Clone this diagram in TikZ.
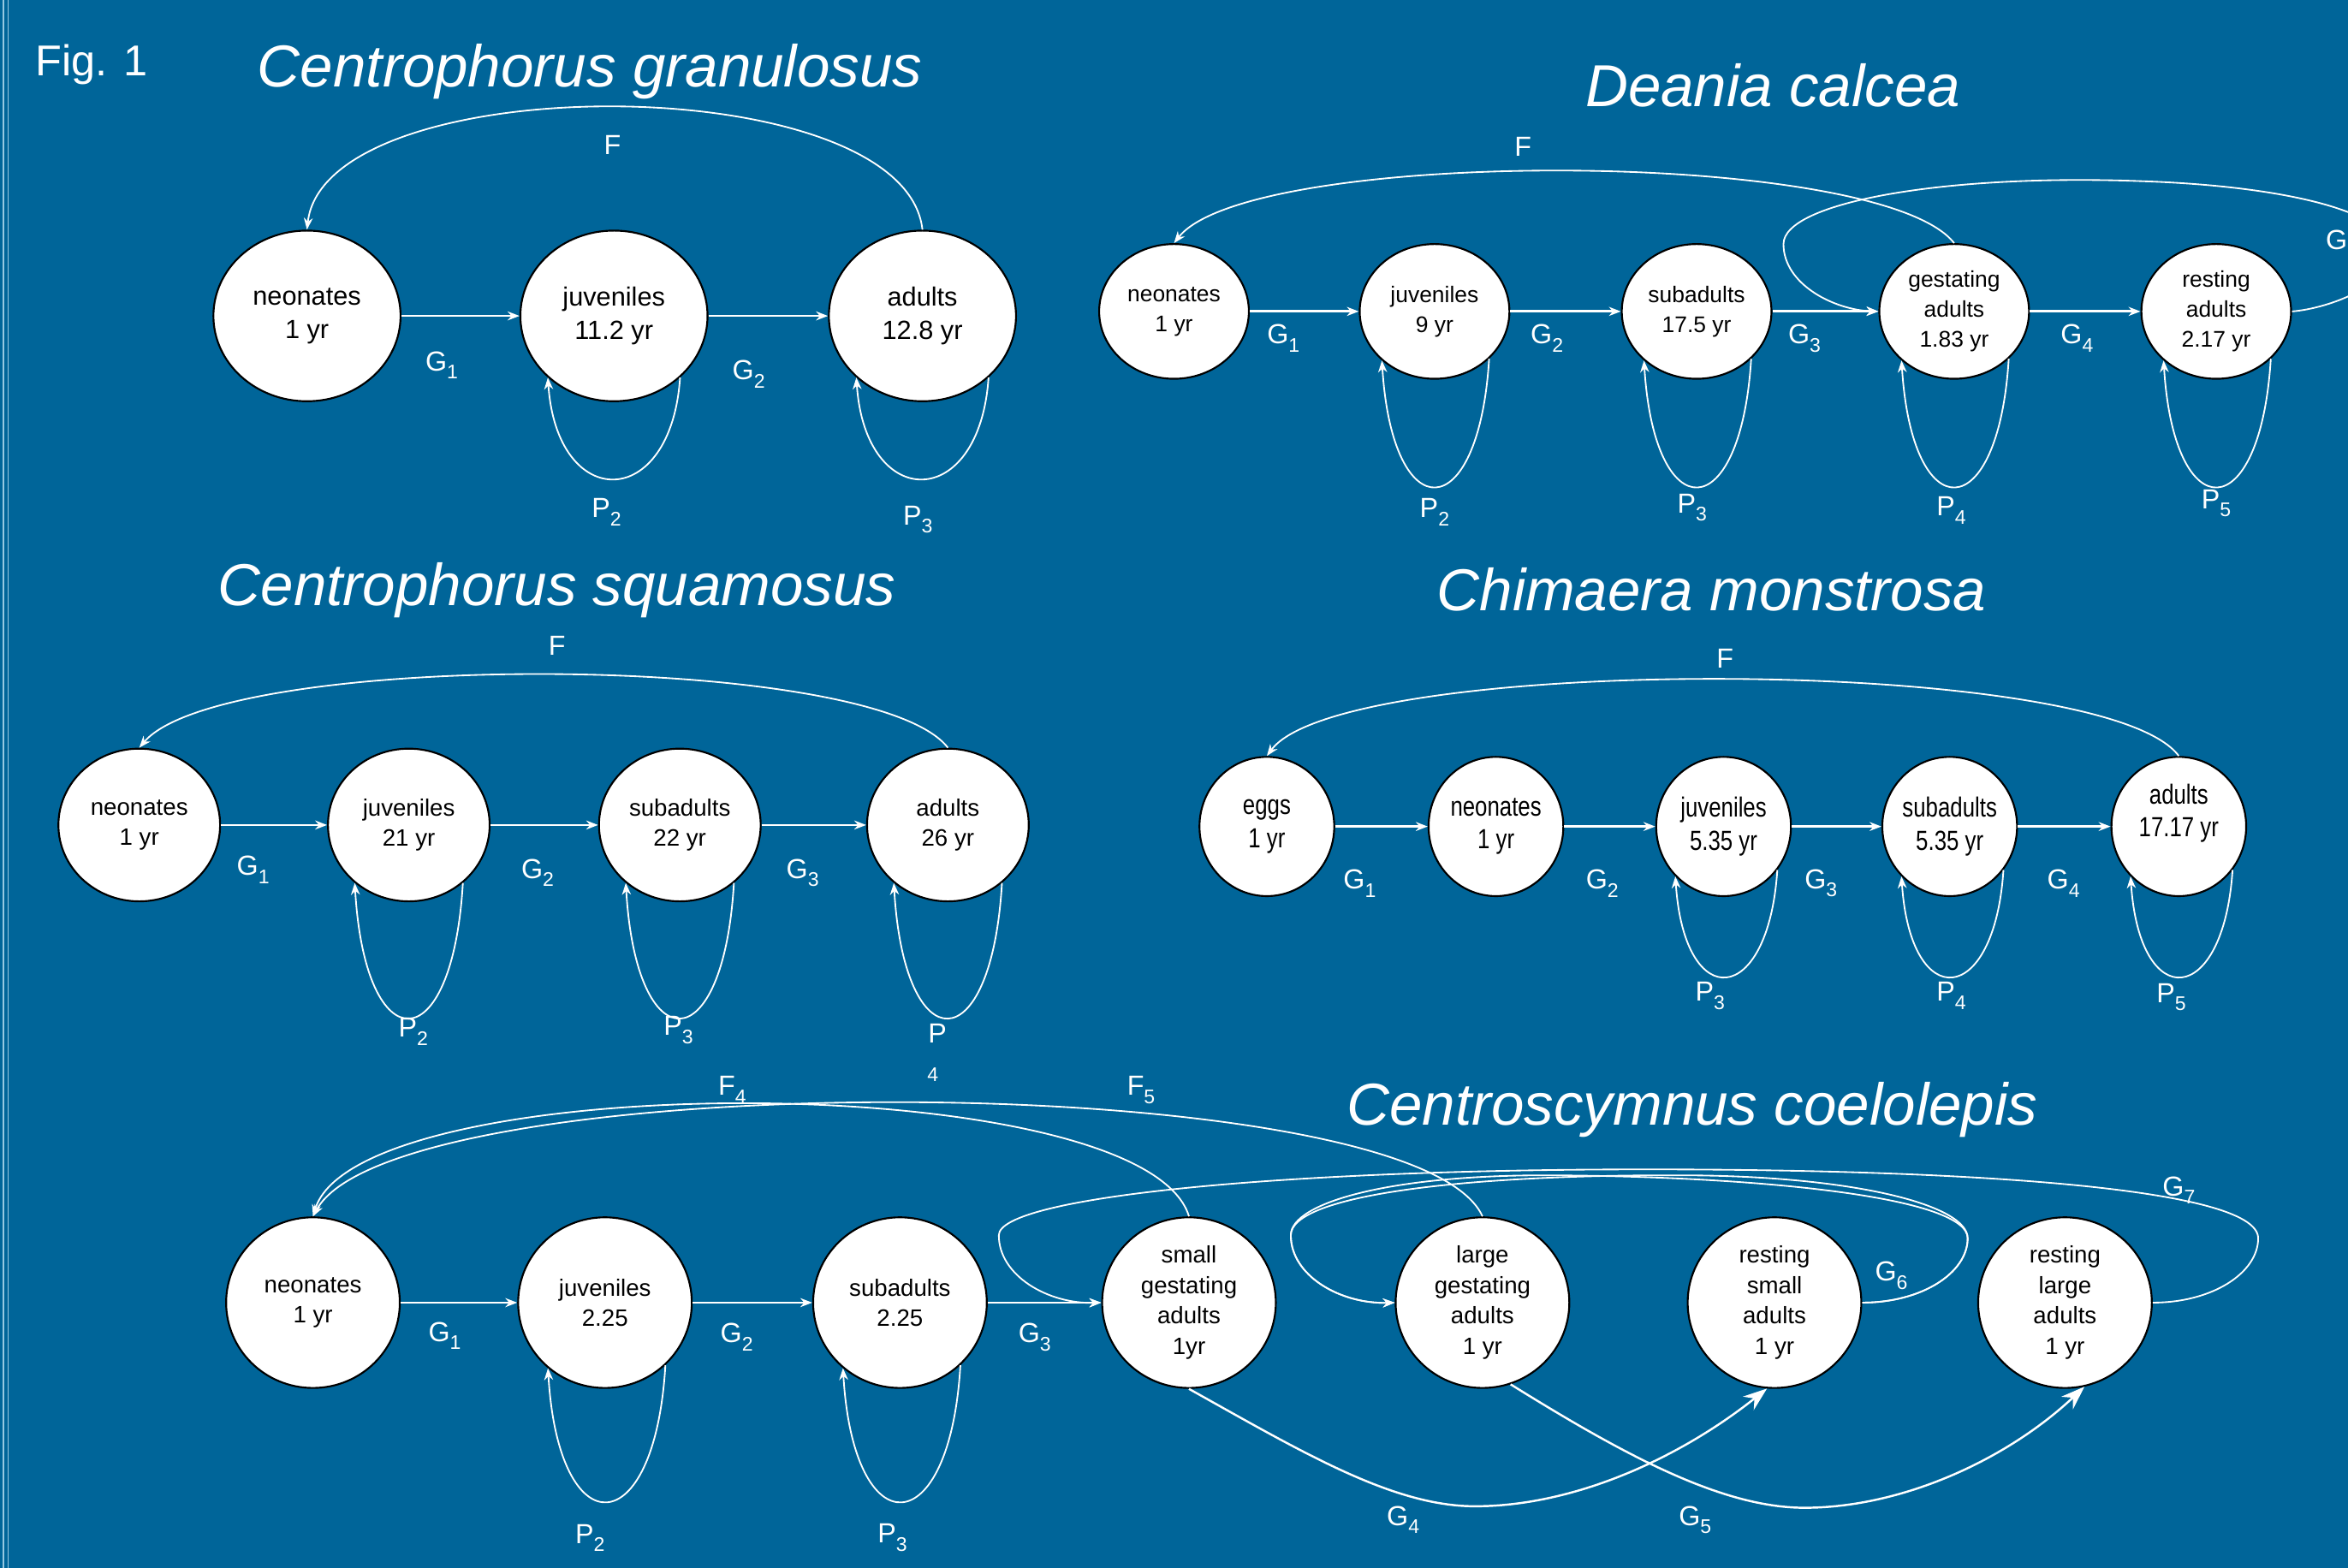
\documentclass[tikz,border=0pt]{standalone}
\usepackage{fontspec}
\setmainfont{Liberation Sans}
\newfontfamily\narrowfont[FakeStretch=0.8]{Liberation Sans}
\usetikzlibrary{shapes.geometric,arrows.meta}
\definecolor{bgblue}{RGB}{0,101,153}
\definecolor{edgeblue}{RGB}{150,200,225}
\newcommand{\lsub}[1]{\raisebox{-0.55ex}{\fontsize{7.5}{8}\selectfont #1}}
\tikzset{
  stage/.style={ellipse, draw=black, line width=0.7pt, fill=white, text=black, align=center, inner sep=0pt},
  cgnode/.style={stage, minimum width=2.5cm, minimum height=2.28cm, font=\fontsize{10}{12.5}\selectfont},
  dcnode/.style={stage, minimum width=2.0cm, minimum height=1.8cm, font=\fontsize{8.6}{11.4}\selectfont},
  csnode/.style={stage, minimum width=2.16cm, minimum height=2.04cm, font=\fontsize{9}{11.4}\selectfont},
  cmnode/.style={stage, minimum width=1.8cm, minimum height=1.86cm, font=\narrowfont\fontsize{10.5}{12.5}\selectfont},
  ccnode/.style={stage, minimum width=2.32cm, minimum height=2.28cm, font=\fontsize{9}{11.6}\selectfont},
  flow/.style={white, line width=0.9pt, -{Stealth[length=4.5pt,width=3.4pt]}},
  curve/.style={white, line width=0.6pt, -{Stealth[length=4.5pt,width=3.4pt]}},
  bigcurve/.style={white, line width=0.8pt, -{Stealth[length=9pt,width=6.5pt]}},
  lab/.style={text=white, font=\fontsize{10.5}{12}\selectfont, inner sep=0pt},
  ttl/.style={text=white, font=\fontsize{22.5}{26}\selectfont\itshape, inner sep=0pt},
}
\begin{document}
\begin{tikzpicture}[x=0.02cm,y=-0.02cm]
\useasboundingbox (0,0) rectangle (1568,1047);
\fill[bgblue] (0,0) rectangle (1568,1047);
\clip (0,0) rectangle (1568,1047);
\draw[edgeblue, line width=0.5pt] (2.2,0) -- (2.2,1047);
\draw[edgeblue, line width=0.5pt] (5.4,0) -- (5.4,1047);

% ---------- Fig label
\node[text=white, font=\fontsize{16.4}{18}\selectfont, inner sep=0pt] (fig) at (61,43) {Fig. 1};

% ---------- Centrophorus granulosus
\node[ttl] (t1) at (394,48) {Centrophorus granulosus};
\node[cgnode] (cgneo) at (205,211) {neonates\\1 yr};
\node[cgnode] (cgjuv) at (410,211) {juveniles\\11.2 yr};
\node[cgnode] (cgad) at (616,211) {adults\\12.8 yr};
\draw[flow] (cgneo) -- (cgjuv);
\draw[flow] (cgjuv) -- (cgad);
\draw[curve] (cgad.north) .. controls +(-12,-109) and +(12,-109) .. (cgneo.north);
\draw[curve] (cgjuv.-43) .. controls +(-6,90) and +(6,90) .. (cgjuv.-137);
\draw[curve] (cgad.-43) .. controls +(-6,90) and +(6,90) .. (cgad.-137);
\node[lab] at (409,97) {F};
\node[lab] at (295,244) {G\lsub{1}};
\node[lab] at (500,250) {G\lsub{2}};
\node[lab] at (405,342) {P\lsub{2}};
\node[lab] at (613,347) {P\lsub{3}};

% ---------- Deania calcea
\node[ttl] (t2) at (1184,57) {Deania calcea};
\node[dcnode] (dcneo) at (784,208) {neonates\\1 yr};
\node[dcnode] (dcjuv) at (958,208) {juveniles\\9 yr};
\node[dcnode] (dcsub) at (1133,208) {subadults\\17.5 yr};
\node[dcnode] (dcgest) at (1305,208) {gestating\\adults\\1.83 yr};
\node[dcnode] (dcrest) at (1480,208) {resting\\adults\\2.17 yr};
\draw[flow] (dcneo) -- (dcjuv);
\draw[flow] (dcjuv) -- (dcsub);
\draw[flow] (dcsub) -- (dcgest);
\draw[flow] (dcgest) -- (dcrest);
\draw[curve] (dcgest.north) .. controls +(-50,-64) and +(50,-64) .. (dcneo.north);
\coordinate (dA) at (1597,168);
\coordinate (dB) at (1430,121);
\coordinate (dC) at (1191,163);
\draw[curve] (dcrest.east) .. controls +(25,-2) and (1597,190) .. (dA)
   .. controls (1597,140) and (1520,124) .. (dB)
   .. controls (1300,116) and (1191,135) .. (dC)
   .. controls (1191,190) and (1225,207) .. (dcgest.west);
\foreach \n in {dcjuv,dcsub,dcgest,dcrest}{
  \draw[curve] (\n.-41) .. controls +(-7,113) and +(7,113) .. (\n.-137);
}
\node[lab] at (1017,98) {F};
\node[lab] at (857,226) {G\lsub{1}};
\node[lab] at (1033,226) {G\lsub{2}};
\node[lab] at (1205,226) {G\lsub{3}};
\node[lab] at (1387,226) {G\lsub{4}};
\node[lab] at (1564,163) {G\lsub{5}};
\node[lab] at (958,342) {P\lsub{2}};
\node[lab] at (1130,339) {P\lsub{3}};
\node[lab] at (1303,341) {P\lsub{4}};
\node[lab] at (1480,336) {P\lsub{5}};

% ---------- Centrophorus squamosus
\node[ttl] (t3) at (372,394) {Centrophorus squamosus};
\node[csnode] (csneo) at (93,551) {neonates\\1 yr};
\node[csnode] (csjuv) at (273,551) {juveniles\\21 yr};
\node[csnode] (cssub) at (454,551) {subadults\\22 yr};
\node[csnode] (csad) at (633,551) {adults\\26 yr};
\draw[flow] (csneo) -- (csjuv);
\draw[flow] (csjuv) -- (cssub);
\draw[flow] (cssub) -- (csad);
\draw[curve] (csad.north) .. controls +(-50,-65) and +(55,-65) .. (csneo.north);
\foreach \n in {csjuv,cssub,csad}{
  \draw[curve] (\n.-47) .. controls +(-7,120) and +(7,120) .. (\n.-133);
}
\node[lab] at (372,431) {F};
\node[lab] at (169,581) {G\lsub{1}};
\node[lab] at (359,583) {G\lsub{2}};
\node[lab] at (536,583) {G\lsub{3}};
\node[lab] at (276,689) {P\lsub{2}};
\node[lab] at (453,688) {P\lsub{3}};
\node[lab] at (626,690) {P};
\node[lab, font=\fontsize{7.5}{8}\selectfont] at (623,718) {4};

% ---------- Chimaera monstrosa
\node[ttl] (t4) at (1143,394) {Chimaera monstrosa};
\node[cmnode] (cmegg) at (846,552) {eggs\\1 yr};
\node[cmnode] (cmneo) at (999,552) {neonates\\1 yr};
\node[cmnode] (cmjuv) at (1151,552) {juveniles\\5.35 yr};
\node[cmnode] (cmsub) at (1302,552) {subadults\\5.35 yr};
\node[cmnode] (cmad) at (1455,552) {};
\node[text=black, align=center, inner sep=0pt, font=\narrowfont\fontsize{10.5}{12.5}\selectfont] (cmadtxt) at ([yshift=0.18cm]cmad.center) {adults\\17.17 yr};
\draw[flow] (cmegg) -- (cmneo);
\draw[flow] (cmneo) -- (cmjuv);
\draw[flow] (cmjuv) -- (cmsub);
\draw[flow] (cmsub) -- (cmad);
\draw[curve] (cmad.north) .. controls +(-50,-68) and +(50,-68) .. (cmegg.north);
\foreach \n in {cmjuv,cmsub,cmad}{
  \draw[curve] (\n.-39) .. controls +(-6,92) and +(6,92) .. (\n.-134);
}
\node[lab] at (1152,440) {F};
\node[lab] at (908,590) {G\lsub{1}};
\node[lab] at (1070,590) {G\lsub{2}};
\node[lab] at (1216,590) {G\lsub{3}};
\node[lab] at (1378,590) {G\lsub{4}};
\node[lab] at (1142,665) {P\lsub{3}};
\node[lab] at (1303,665) {P\lsub{4}};
\node[lab] at (1450,666) {P\lsub{5}};

% ---------- Centroscymnus coelolepis
\node[ttl] (t5) at (1130,741) {Centroscymnus coelolepis};
\node[ccnode] (ccneo) at (209,870) {neonates\\1 yr};
\node[ccnode] (ccjuv) at (404,870) {juveniles\\2.25};
\node[ccnode] (ccsub) at (601,870) {subadults\\2.25};
\node[ccnode] (ccsg) at (794,870) {small\\gestating\\adults\\1yr};
\node[ccnode] (cclg) at (990,870) {large\\gestating\\adults\\1 yr};
\node[ccnode] (ccrs) at (1185,870) {resting\\small\\adults\\1 yr};
\node[ccnode] (ccrl) at (1379,870) {resting\\large\\adults\\1 yr};
\draw[flow] (ccneo) -- (ccjuv);
\draw[flow] (ccjuv) -- (ccsub);
\draw[flow] (ccsub) -- (ccsg);
\foreach \n in {ccjuv,ccsub}{
  \draw[curve] (\n.-46) .. controls +(-7,120) and +(7,120) .. (\n.-131);
}
% fecundity arcs
\draw[curve] (ccsg.north) .. controls +(-30,-100) and +(30,-100) .. (ccneo.north);
\draw[curve] (cclg.north) .. controls +(-45,-101) and +(55,-101) .. (ccneo.north);
% G4, G5
\coordinate (g4low) at (985,1006);
\coordinate (g5low) at (1205,1007);
\draw[bigcurve] (ccsg.south) .. controls (870,970) and (930,1006) .. (g4low)
   .. controls (1050,1006) and (1120,975) .. (ccrs.-95);
\draw[bigcurve] (cclg.-71) .. controls (1085,972) and (1150,1007) .. (g5low)
   .. controls (1270,1007) and (1340,975) .. (ccrl.-77);
% G6 loops (resting small -> large gestating)
\coordinate (g6a) at (1314,827);
\coordinate (g6c) at (862,825);
\coordinate (g6p) at (1040,785);
\coordinate (g6q) at (1130,785);
\draw[curve] (ccrs.east) .. controls +(40,0) and (1314,850) .. (g6a)
   .. controls (1314,800) and (1180,786) .. (g6p)
   .. controls (930,784) and (862,803) .. (g6c)
   .. controls (862,852) and (895,871) .. (cclg.west);
\draw[curve] (ccrs.east) .. controls +(40,0) and (1314,850) .. (g6a)
   .. controls (1314,805) and (1240,786) .. (g6q)
   .. controls (980,784) and (862,798) .. (g6c)
   .. controls (862,852) and (895,871) .. (cclg.west);
% G7 loop (resting large -> small gestating)
\coordinate (g7a) at (1508,827);
\coordinate (g7b) at (1100,781);
\coordinate (g7c) at (667,825);
\draw[curve] (ccrl.east) .. controls +(40,0) and (1508,850) .. (g7a)
   .. controls (1508,792) and (1300,781) .. (g7b)
   .. controls (850,781) and (667,800) .. (g7c)
   .. controls (667,852) and (700,871) .. (ccsg.west);
\node[lab] at (489,728) {F\lsub{4}};
\node[lab] at (762,728) {F\lsub{5}};
\node[lab] at (297,892) {G\lsub{1}};
\node[lab] at (492,893) {G\lsub{2}};
\node[lab] at (691,893) {G\lsub{3}};
\node[lab] at (937,1015) {G\lsub{4}};
\node[lab] at (1132,1015) {G\lsub{5}};
\node[lab] at (1263,852) {G\lsub{6}};
\node[lab] at (1455,795) {G\lsub{7}};
\node[lab] at (394,1027) {P\lsub{2}};
\node[lab] at (596,1027) {P\lsub{3}};
\end{tikzpicture}
\end{document}
